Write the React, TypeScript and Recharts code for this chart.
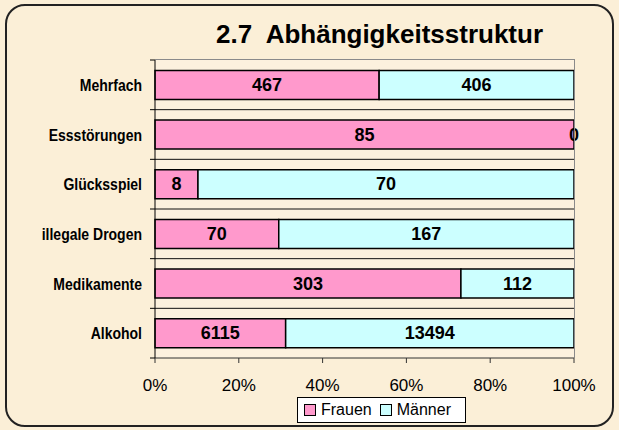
import { BarChart, Bar, XAxis, YAxis, CartesianGrid, LabelList } from 'recharts'

const categories = ['Mehrfach', 'Essstörungen', 'Glücksspiel', 'illegale Drogen', 'Medikamente', 'Alkohol']
const frauen = [467, 85, 8, 70, 303, 6115]
const maenner = [406, 0, 70, 167, 112, 13494]
const xTicks = [0, 0.2, 0.4, 0.6, 0.8, 1]

const data = categories.map((name, i) => ({ name, frauen: frauen[i], maenner: maenner[i] }))

const W = 619
const H = 430
const PLOT_TOP = 60
const PLOT_BOTTOM = 358
const PLOT_LEFT = 155
const PLOT_RIGHT = 574
const BAND = (PLOT_BOTTOM - PLOT_TOP) / categories.length

const FONT = '"Liberation Sans", Arial, sans-serif'
const BG = '#FBEFD7'
const PLOT_BG = '#FCF1DE'
const PINK = '#FF99CC'
const CYAN = '#CCFFFF'

function CategoryTick(props: any) {
  const { x, y, payload, index } = props
  const ax = x + 13
  return (
    <g>
      {/* the source labels are a bit stretched vertically */}
      <text
        transform={`translate(${x},${y + 6}) scale(1,1.2)`}
        textAnchor="end"
        fontFamily={FONT}
        fontSize={14}
        fontWeight="bold"
        fill="#000"
      >
        {payload.value}
      </text>
      {index === 0 && <line x1={ax - 5} x2={ax} y1={y - BAND / 2} y2={y - BAND / 2} stroke="#000" />}
      <line x1={ax - 5} x2={ax} y1={y + BAND / 2} y2={y + BAND / 2} stroke="#000" />
    </g>
  )
}

// value label in the middle of a segment; a zero-size segment that follows gets its "0" at the bar end
function SegmentLabel(props: any) {
  const { x, y, width, height, value, index } = props
  const style = { fontFamily: FONT, fontSize: 18, fontWeight: 'bold' as const, fill: '#000' }
  return (
    <g>
      <text x={x + width / 2} y={y + height / 2} dy={6} textAnchor="middle" {...style}>{value}</text>
      {maenner[index] === 0 && (
        <text x={x + width} y={y + height / 2} dy={6} textAnchor="middle" {...style}>{maenner[index]}</text>
      )}
    </g>
  )
}

function LegendBox() {
  const item = (color: string, label: string) => (
    <div style={{ display: 'flex', alignItems: 'center', marginRight: 8 }}>
      <div style={{ width: 10, height: 10, background: color, border: '1px solid #000', marginRight: 5 }} />
      <span>{label}</span>
    </div>
  )
  return (
    <div style={{
      position: 'absolute',
      left: 297,
      top: 397,
      width: 169,
      height: 26,
      boxSizing: 'border-box',
      border: '1px solid #000',
      background: '#fff',
      display: 'flex',
      alignItems: 'center',
      paddingLeft: 6,
      fontFamily: FONT,
      fontSize: 16,
      color: '#000',
    }}>
      {item(PINK, 'Frauen')}
      {item(CYAN, 'Männer')}
    </div>
  )
}

export default function App() {
  return (
    <div style={{ position: 'absolute', left: 0, top: 0, width: W, height: H, background: BG, overflow: 'hidden' }}>
      <div style={{
        position: 'absolute',
        left: 5,
        top: 4,
        width: 609,
        height: 423,
        boxSizing: 'border-box',
        border: '2px solid #222',
        borderRadius: 20,
      }} />
      <div style={{
        position: 'absolute',
        left: 216,
        top: 21,
        fontFamily: FONT,
        fontSize: 26,
        lineHeight: '26px',
        fontWeight: 'bold',
        whiteSpace: 'pre',
        color: '#000',
      }}>
        {'2.7  Abhängigkeitsstruktur'}
      </div>
      <div style={{ position: 'absolute', left: 0, top: 0 }}>
        <BarChart
          width={W}
          height={H}
          data={data}
          layout="vertical"
          stackOffset="expand"
          barCategoryGap="21%"
          margin={{ top: PLOT_TOP, right: W - PLOT_RIGHT, bottom: H - PLOT_BOTTOM - 30, left: PLOT_LEFT - 140 }}
        >
          <CartesianGrid
            vertical={false}
            fill={PLOT_BG}
            stroke="#111"
            strokeWidth={1}
            horizontalCoordinatesGenerator={({ offset }: any) =>
              [1, 2, 3, 4, 5].map(i => offset.top + (i * offset.height) / categories.length)
            }
          />
          <XAxis
            type="number"
            domain={[0, 1]}
            ticks={xTicks}
            tickFormatter={(v: number) => `${Math.round(v * 100)}%`}
            height={30}
            stroke="#333"
            tickSize={5}
            tickMargin={16}
            tick={{ fill: '#000', fontSize: 17, fontFamily: FONT }}
            interval={0}
          />
          <YAxis
            type="category"
            dataKey="name"
            width={140}
            stroke="#000"
            tickLine={false}
            tickSize={0}
            tickMargin={13}
            tick={<CategoryTick />}
            interval={0}
          />
          <Bar dataKey="frauen" stackId="a" fill={PINK} stroke="#000" strokeWidth={1.5} isAnimationActive={false}>
            <LabelList dataKey="frauen" content={<SegmentLabel />} />
          </Bar>
          <Bar dataKey="maenner" stackId="a" fill={CYAN} stroke="#000" strokeWidth={1.5} isAnimationActive={false}>
            <LabelList
              dataKey="maenner"
              content={(p: any) =>
                p.value === 0 ? null : (
                  <text
                    x={p.x + p.width / 2}
                    y={p.y + p.height / 2}
                    dy={6}
                    textAnchor="middle"
                    fontFamily={FONT}
                    fontSize={18}
                    fontWeight="bold"
                    fill="#000"
                  >
                    {p.value}
                  </text>
                )
              }
            />
          </Bar>
        </BarChart>
      </div>
      <div style={{
        position: 'absolute',
        left: PLOT_LEFT,
        top: PLOT_TOP - 1,
        width: PLOT_RIGHT - PLOT_LEFT,
        height: PLOT_BOTTOM - PLOT_TOP,
        borderTop: '1.5px solid #8a8a8a',
        borderRight: '1.5px solid #8a8a8a',
        pointerEvents: 'none',
      }} />
      <LegendBox />
    </div>
  )
}
